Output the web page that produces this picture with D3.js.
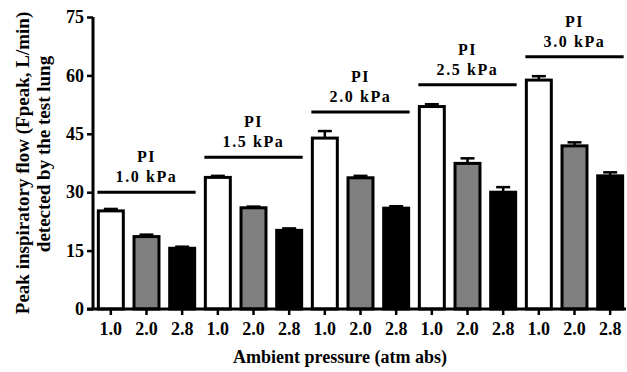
<!DOCTYPE html>
<html>
<head>
<meta charset="utf-8">
<script src="https://cdn.jsdelivr.net/npm/d3@7"></script>
<style>
  body { margin: 0; background: #fff; }
  text { font-family: "Liberation Serif", "Times New Roman", serif; font-weight: bold; fill: #000; }
</style>
</head>
<body>
<div id="chart"></div>
<script>
// pressure groups (PI) and ambient pressures
const groups = ['1.0', '1.5', '2.0', '2.5', '3.0']
const pressures = ['1.0', '2.0', '2.8']
// mean Fpeak per group, one value per ambient pressure
const means = [
	[25.2, 18.6, 15.6],
	[33.8, 26.0, 20.2],
	[43.9, 33.7, 25.9],
	[52.0, 37.4, 30.0],
	[58.8, 41.9, 34.2]
]
const errors = [
	[0.5, 0.5, 0.4],
	[0.4, 0.3, 0.5],
	[1.8, 0.5, 0.5],
	[0.6, 1.3, 1.3],
	[1.0, 0.9, 0.9]
]
// height of each PI annotation line (in L/min)
const labelLevels = [30, 39, 50.6, 57.6, 64.8]
const yTicks = [0, 15, 30, 45, 60, 75]

const width = 627
const height = 372
const margin = { top: 17, right: 0, bottom: 63, left: 93 }

const svg = d3.select('#chart')
	.append('svg')
	.attr('width', width)
	.attr('height', height)

const rows = []
groups.forEach((g, gi) => {
	pressures.forEach((p, pi) => {
		rows.push({ key: g + '_' + p, group: gi, p: pi, label: p, value: means[gi][pi], err: errors[gi][pi] })
	})
})

const x = d3.scaleBand()
	.domain(rows.map(d => d.key))
	.range([margin.left, width + 1])
	.paddingInner(0.3)
	.paddingOuter(0.15)

const y = d3.scaleLinear()
	.domain([0, 75])
	.range([height - margin.bottom, margin.top])

const FILLS = ['#ffffff', '#808080', '#000000']

// error bars (drawn first so the bar outline covers the lower half)
const errG = svg.append('g')
errG.selectAll('line.stem')
	.data(rows)
	.join('line')
	.attr('x1', d => x(d.key) + x.bandwidth() / 2)
	.attr('x2', d => x(d.key) + x.bandwidth() / 2)
	.attr('y1', d => y(d.value))
	.attr('y2', d => y(d.value + d.err))
	.attr('stroke', '#000')
	.attr('stroke-width', 2.5)
errG.selectAll('line.cap')
	.data(rows)
	.join('line')
	.attr('x1', d => x(d.key) + x.bandwidth() * 0.22)
	.attr('x2', d => x(d.key) + x.bandwidth() * 0.78)
	.attr('y1', d => y(d.value + d.err))
	.attr('y2', d => y(d.value + d.err))
	.attr('stroke', '#000')
	.attr('stroke-width', 2.5)

svg.append('g')
	.selectAll('rect')
	.data(rows)
	.join('rect')
	.attr('x', d => x(d.key))
	.attr('y', d => y(d.value))
	.attr('width', x.bandwidth())
	.attr('height', d => y(0) - y(d.value))
	.attr('fill', d => FILLS[d.p])
	.attr('stroke', '#000')
	.attr('stroke-width', 3)

// PI annotations
groups.forEach((g, gi) => {
	const first = x(g + '_1.0')
	const last = x(g + '_2.8') + x.bandwidth()
	const ly = y(labelLevels[gi])
	const ann = svg.append('g')
	ann.append('line')
		.attr('x1', first - 1)
		.attr('x2', last + 1)
		.attr('y1', ly)
		.attr('y2', ly)
		.attr('stroke', '#000')
		.attr('stroke-width', 3)
	const cx = (first + last) / 2
	ann.append('text')
		.attr('x', cx)
		.attr('y', ly - 30)
		.attr('text-anchor', 'middle')
		.style('font-size', '16px')
		.style('letter-spacing', '1.5px')
		.text('PI')
	ann.append('text')
		.attr('x', cx)
		.attr('y', ly - 10)
		.attr('text-anchor', 'middle')
		.style('font-size', '16px')
		.style('letter-spacing', '1.6px')
		.text(g + ' kPa')
})

// axes
const yAxis = svg.append('g')
	.attr('transform', `translate(${margin.left},0)`)
	.call(d3.axisLeft(y).tickValues(yTicks).tickSize(6).tickPadding(3))
yAxis.select('.domain').attr('stroke-width', 3).attr('d', `M0,${y(75)}V${y(0)}`)
yAxis.selectAll('.tick line').attr('stroke-width', 2.5)
yAxis.selectAll('text').style('font-size', '18px').style('font-family', '"Liberation Serif", serif')

const xAxis = svg.append('g')
	.attr('transform', `translate(0,${y(0)})`)
	.call(d3.axisBottom(x).tickFormat((k, i) => rows[i].label).tickSize(6).tickPadding(7))
xAxis.select('.domain').attr('stroke-width', 3).attr('d', `M${margin.left - 6},0H${width - 1}`)
xAxis.selectAll('.tick line').attr('stroke-width', 2.5)
xAxis.selectAll('text').style('font-size', '18px').style('font-family', '"Liberation Serif", serif')

// titles
svg.append('text')
	.attr('x', 340)
	.attr('y', 363)
	.attr('text-anchor', 'middle')
	.style('font-size', '18px')
	.text('Ambient pressure (atm abs)')

svg.append('text')
	.attr('transform', 'translate(29,163) rotate(-90)')
	.attr('text-anchor', 'middle')
	.style('font-size', '19px')
	.text('Peak inspiratory flow (Fpeak, L/min)')
svg.append('text')
	.attr('transform', 'translate(50,154) rotate(-90)')
	.attr('text-anchor', 'middle')
	.style('font-size', '19px')
	.text('detected by the test lung')
</script>
</body>
</html>
